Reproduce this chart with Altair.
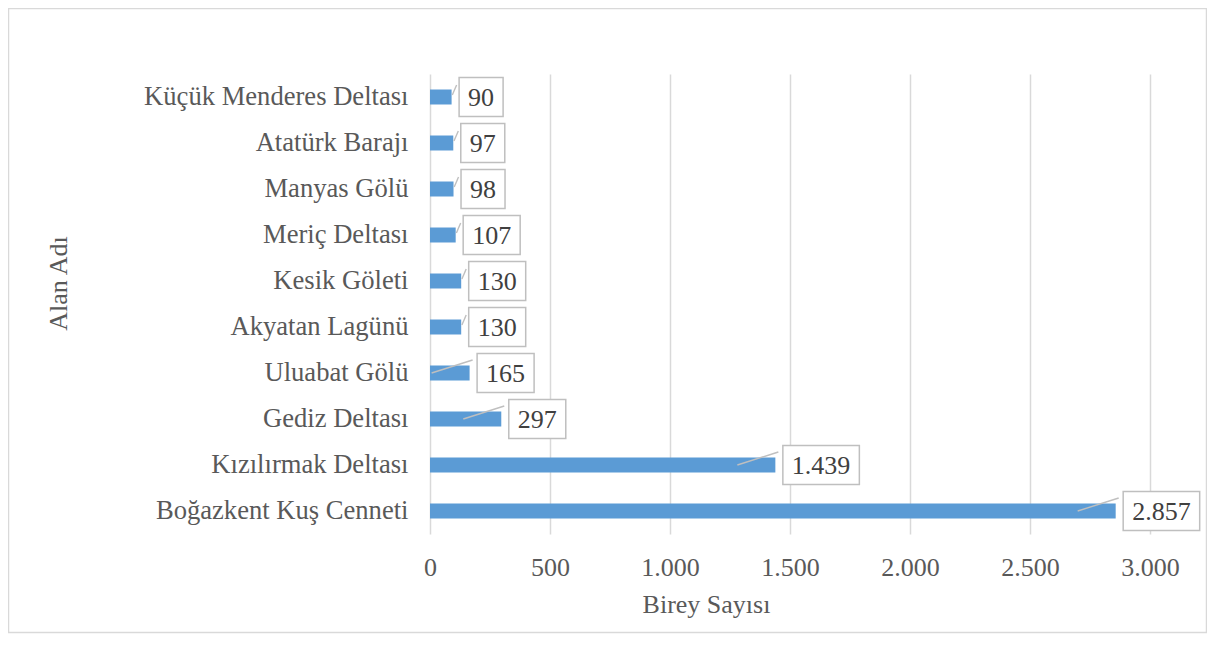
import altair as alt
import pandas as pd

# ---- data (top to bottom) ----
areas = [
    "Küçük Menderes Deltası",
    "Atatürk Barajı",
    "Manyas Gölü",
    "Meriç Deltası",
    "Kesik Göleti",
    "Akyatan Lagünü",
    "Uluabat Gölü",
    "Gediz Deltası",
    "Kızılırmak Deltası",
    "Boğazkent Kuş Cenneti",
]
counts = [90, 97, 98, 107, 130, 130, 165, 297, 1439, 2857]
x_ticks = [0, 500, 1000, 1500, 2000, 2500, 3000]

df = pd.DataFrame({"alan": areas, "birey": counts})

FONT = "Liberation Serif"
W, H = 720, 460
K = 3000 / W  # data units per pixel on the x scale
TXT = "#595959"
GRID = "#d9d9d9"
BAR = "#5b9bd5"
BOXC = "#bfbfbf"

xscale = alt.Scale(domain=[0, 3000], nice=False, zero=True)
yscale = alt.Scale(domain=areas, paddingInner=0.674, paddingOuter=0.337)

x_axis = alt.Axis(
    title="Birey Sayısı",
    values=x_ticks,
    labelExpr="replace(format(datum.value, ','), ',', '.')",
    grid=True, gridColor=GRID, gridWidth=1.5,
    domain=False, ticks=False,
    labelFont=FONT, labelFontSize=26, labelColor=TXT, labelPadding=20,
    labelFlush=False, labelOverlap=False,
    titleFont=FONT, titleFontSize=26, titleFontWeight="normal", titleColor=TXT,
    titleX=276, titleY=78, titleAlign="center", titleBaseline="alphabetic",
)
y_axis = alt.Axis(
    title="Alan Adı",
    domain=False, ticks=False, grid=False,
    labelFont=FONT, labelFontSize=26.6, labelColor=TXT, labelPadding=22,
    labelLimit=400,
    titleFont=FONT, titleFontSize=26, titleFontWeight="normal", titleColor=TXT,
    titleX=-364, titleY=209, titleAngle=270, titleAlign="center", titleBaseline="alphabetic",
)

base = alt.Chart(df).transform_calculate(
    label="replace(format(datum.birey, ','), ',', '.')"
).transform_calculate(
    nd="length(replace(datum.label, '.', ''))",
).transform_calculate(
    tw="13 * datum.nd + 6.5 * (length(datum.label) - datum.nd)",
    bx1=f"datum.birey + 7.5 * {K}",
).transform_calculate(
    bx2=f"datum.bx1 + (datum.tw + 18) * {K}",
    big="datum.birey > 160 ? 1 : 0",
).transform_calculate(
    tx="(datum.bx1 + datum.bx2) / 2",
    lx1=f"datum.big == 1 ? datum.birey - 38 * {K} : datum.birey + 0.7 * {K}",
    lx2=f"datum.big == 1 ? datum.birey + 3 * {K} : datum.birey + 5 * {K}",
)

bars = base.mark_bar(color=BAR).encode(
    x=alt.X("birey:Q", scale=xscale, axis=x_axis),
    y=alt.Y("alan:N", scale=yscale, sort=areas, axis=y_axis),
)

lead_big = base.transform_filter("datum.big == 1").mark_rule(
    color=BOXC, strokeWidth=1.4, yOffset=0, y2Offset=-13
).encode(
    x=alt.X("lx1:Q", scale=xscale), x2="lx2:Q",
    y=alt.Y("alan:N", scale=yscale, sort=areas), y2="alan:N",
)
lead_small = base.transform_filter("datum.big == 0").mark_rule(
    color=BOXC, strokeWidth=1.4, yOffset=-2, y2Offset=-12
).encode(
    x=alt.X("lx1:Q", scale=xscale), x2="lx2:Q",
    y=alt.Y("alan:N", scale=yscale, sort=areas), y2="alan:N",
)

boxes = base.mark_bar(
    fill="white", stroke=BOXC, strokeWidth=1.5, height=39
).encode(
    x=alt.X("bx1:Q", scale=xscale), x2="bx2:Q",
    y=alt.Y("alan:N", scale=yscale, sort=areas),
)

texts = base.mark_text(
    font=FONT, fontSize=26, color="#404040", align="center", baseline="middle", dy=1
).encode(
    x=alt.X("tx:Q", scale=xscale),
    y=alt.Y("alan:N", scale=yscale, sort=areas),
    text="label:N",
)

frame = alt.Chart(pd.DataFrame({"f": [0]})).mark_rect(
    fill=None, stroke=GRID, strokeWidth=1.5
).encode(
    x=alt.value(-421.5), x2=alt.value(776.5),
    y=alt.value(-65.5), y2=alt.value(558.5),
)

chart = alt.layer(frame, bars, lead_big, lead_small, boxes, texts).properties(
    width=W, height=H,
    autosize=alt.AutoSizeParams(type="none"),
    padding={"left": 422, "top": 66, "right": 57, "bottom": 100},
    background="white",
).configure_view(strokeWidth=0)

chart.save("out.html", embed_options={"renderer": "svg", "actions": False})
